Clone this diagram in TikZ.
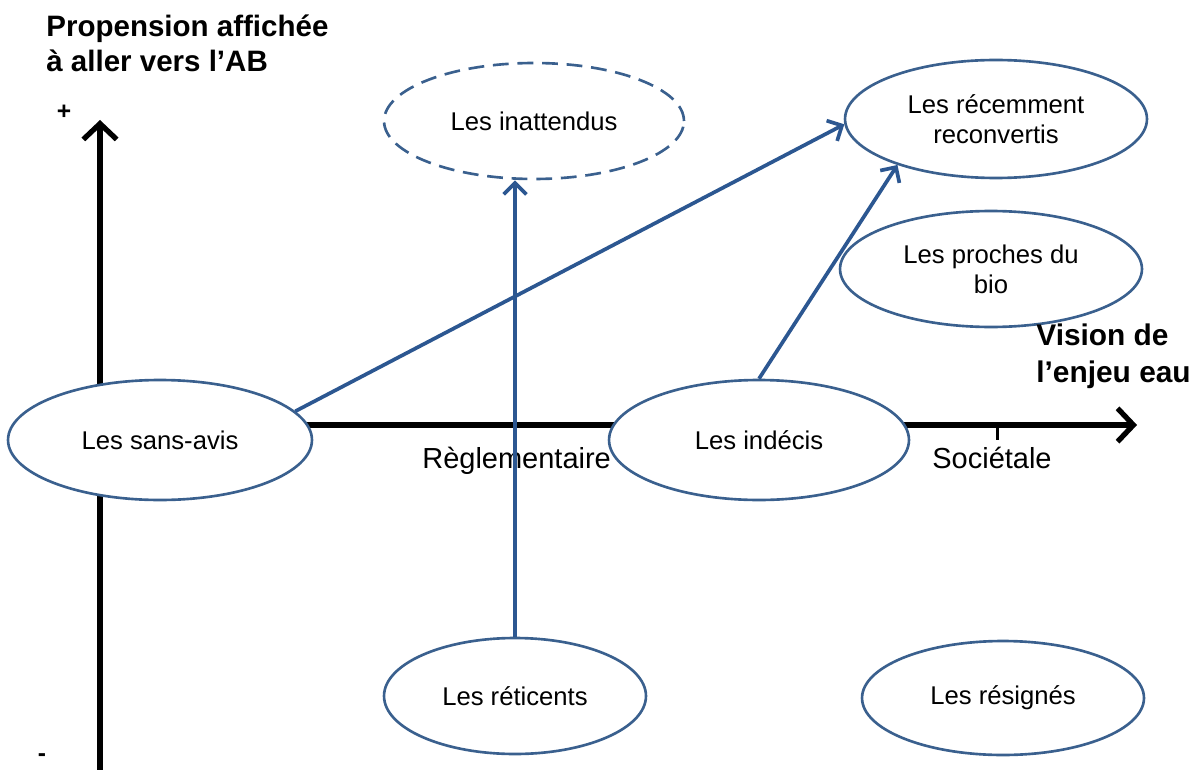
\documentclass[tikz,border=0pt]{standalone}
\usepackage{fontspec}
\setmainfont{Liberation Sans}
\usetikzlibrary{arrows.meta,shapes.geometric}
\definecolor{ellc}{RGB}{58,96,142}
\definecolor{arrc}{RGB}{44,87,145}
\begin{document}
\begin{tikzpicture}[x=0.02cm,y=-0.02cm,
  grp/.style={ellipse, draw=ellc, line width=1.5pt, fill=white, inner sep=0pt,
    font=\fontsize{14.6pt}{17pt}\selectfont, align=center},
  axisline/.style={line width=3pt, -{Straight Barb[length=9pt,width=19pt]}},
  link/.style={draw=arrc, line width=2.1pt, -{Straight Barb[length=6.5pt,width=13pt]}},
  titletext/.style={inner sep=0pt, align=left, font=\fontsize{16.8pt}{20pt}\selectfont\bfseries},
  axlab/.style={inner sep=0pt, font=\fontsize{16.5pt}{19pt}\selectfont},
  signlab/.style={inner sep=0pt, font=\fontsize{14pt}{16pt}\selectfont\bfseries}
  ]
\useasboundingbox (0,0) rectangle (1199,770);
% axes
\coordinate (ybot) at (100,770);
\coordinate (ytop) at (100,120);
\coordinate (xleft) at (100,425);
\coordinate (xright) at (1137,425);
\draw[axisline] (ybot) -- (ytop);
\draw[axisline] (xleft) -- (xright);
\coordinate (tickA) at (997,425);
\coordinate (tickB) at (997,440);
\draw[line width=1.7pt] (tickA) -- (tickB);
% axis labels
\node[titletext, anchor=west] (ytitle) at (46,43) {Propension affichée\\à aller vers l’AB};
\node[signlab] (plus) at (64,112) {+};
\node[signlab] (minus) at (42,758) {-};
\node[axlab, anchor=base west] (regl) at (422,468) {Règlementaire};
\node[axlab, anchor=base west] (soc) at (932,468) {Sociétale};
% groups
\node[grp, minimum width=6.08cm, minimum height=2.4cm] (sansavis) at (160,440) {Les sans-avis};
\node[grp, minimum width=6.0cm, minimum height=2.4cm] (indecis) at (759,440) {Les indécis};
\node[grp, dashed, dash pattern=on 9pt off 5pt, minimum width=6.0cm, minimum height=2.32cm] (inattendus) at (534,121) {Les inattendus};
\node[grp, minimum width=6.04cm, minimum height=2.36cm] (recemment) at (996,119) {Les récemment\\reconvertis};
\node[grp, minimum width=6.04cm, minimum height=2.32cm] (proches) at (991,269) {Les proches du\\bio};
\node[grp, minimum width=5.24cm, minimum height=2.32cm] (reticents) at (515,696) {Les réticents};
\node[grp, minimum width=5.64cm, minimum height=2.28cm] (resignes) at (1003,698) {Les résignés};
\node[titletext, anchor=west, font=\fontsize{17pt}{21pt}\selectfont\bfseries] (xtitle) at (1036,356) {Vision de\\l’enjeu eau};
% links
\draw[link] (sansavis.12) -- (recemment.182);
\draw[link] (indecis.north) -- (recemment.205);
\draw[link] (reticents.north) -- (reticents.north |- inattendus.south);
\end{tikzpicture}
\end{document}
